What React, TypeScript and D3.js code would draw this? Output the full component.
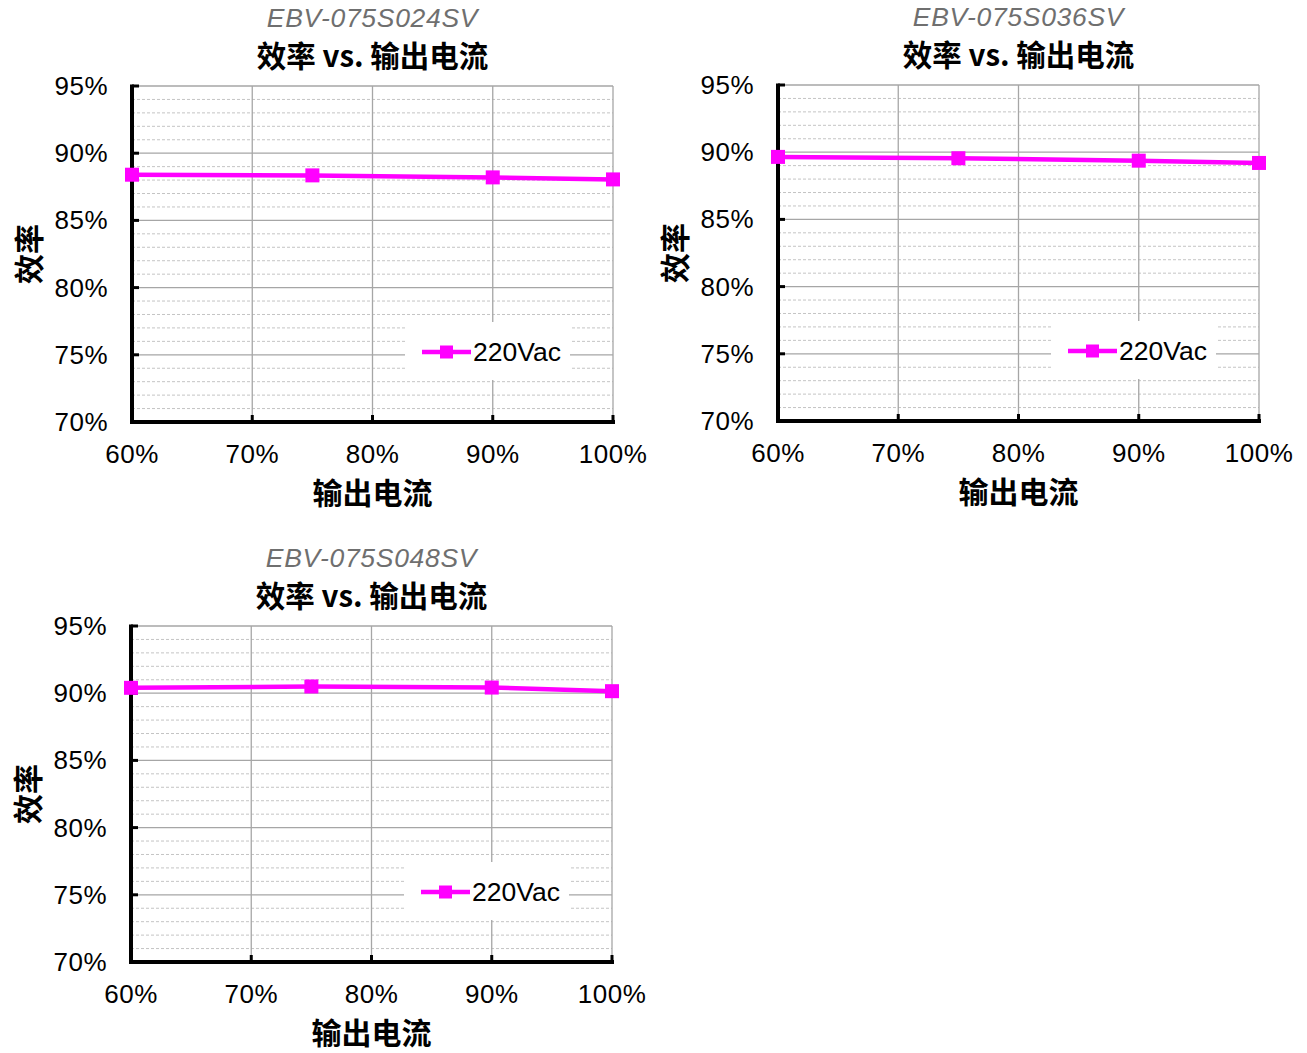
import React from "react";
import * as d3 from "d3";

const loadLevels = [60, 75, 90, 100];
const eff024 = [88.4, 88.35, 88.2, 88.05];
const eff036 = [89.65, 89.55, 89.37, 89.2];
const eff048 = [90.4, 90.5, 90.42, 90.15];

const xTicks = [60, 70, 80, 90, 100];
const yMajorTicks = [70, 75, 80, 85, 90, 95];
const yMinorTicks = d3.range(71, 95).filter((v) => v % 5 !== 0);

const models = ["EBV-075S024SV", "EBV-075S036SV", "EBV-075S048SV"];
const chartTitle = "效率 vs. 输出电流";
const xLabel = "输出电流";
const yLabel = "效率";
const seriesName = "220Vac";

const LATIN = "'Liberation Sans', Arial, sans-serif";
const CJK = "'Noto Sans CJK SC', 'Liberation Sans', sans-serif";
const MAGENTA = "#FF00FF";

type PanelProps = { left: number; top: number; model: string; values: number[] };

function Panel({ left, top, model, values }: PanelProps) {
  const w = 481;
  const h = 336;
  const x = d3.scaleLinear().domain([60, 100]).range([0, w]);
  const y = d3.scaleLinear().domain([70, 95]).range([h, 0]);
  const line = d3
    .line<number>()
    .x((_, i) => x(loadLevels[i]))
    .y((d) => y(d));
  const ms = 14;
  return (
    <g transform={`translate(${left},${top})`}>
      {yMinorTicks.map((t) => (
        <line key={"mn" + t} x1={0} x2={w} y1={y(t)} y2={y(t)} stroke="#c4c4c4" strokeWidth={1} strokeDasharray="3,2" />
      ))}
      {yMajorTicks.map((t) => (
        <line key={"mj" + t} x1={0} x2={w} y1={y(t)} y2={y(t)} stroke="#a6a6a6" strokeWidth={1.3} />
      ))}
      {xTicks.map((t) => (
        <line key={"vx" + t} x1={x(t)} x2={x(t)} y1={0} y2={h} stroke="#a6a6a6" strokeWidth={1.3} />
      ))}
      <rect x={273} y={236} width={165} height={58} fill="#ffffff" />
      <line x1={290} x2={339} y1={266} y2={266} stroke={MAGENTA} strokeWidth={4.5} />
      <rect x={314.5 - 6.5} y={266 - 6.5} width={13} height={13} fill={MAGENTA} />
      <text x={341} y={275} fontFamily={LATIN} fontSize={26.5} fill="#000">
        {seriesName}
      </text>
      <line x1={0} x2={0} y1={-1.5} y2={h + 2} stroke="#000" strokeWidth={4} />
      <line x1={-2} x2={w + 2} y1={h} y2={h} stroke="#000" strokeWidth={4} />
      {yMajorTicks.map((t) => (
        <line key={"yt" + t} x1={0} x2={7} y1={y(t)} y2={y(t)} stroke="#000" strokeWidth={3} />
      ))}
      {xTicks.map((t) => (
        <line key={"xt" + t} x1={x(t)} x2={x(t)} y1={h} y2={h - 7} stroke="#000" strokeWidth={3} />
      ))}
      {yMajorTicks.map((t) => (
        <text key={"yl" + t} x={-24} y={y(t) + 9} textAnchor="end" fontFamily={LATIN} fontSize={26} letterSpacing={0.5} fill="#000">
          {t}%
        </text>
      ))}
      {xTicks.map((t) => (
        <text key={"xl" + t} x={x(t)} y={h + 41} textAnchor="middle" fontFamily={LATIN} fontSize={26} letterSpacing={0.5} fill="#000">
          {t}%
        </text>
      ))}
      <path d={line(values) || ""} fill="none" stroke={MAGENTA} strokeWidth={4.5} />
      {values.map((v, i) => (
        <rect key={"m" + i} x={x(loadLevels[i]) - ms / 2} y={y(v) - ms / 2} width={ms} height={ms} fill={MAGENTA} />
      ))}
      <text x={w / 2} y={-59} textAnchor="middle" fontFamily={LATIN} fontStyle="italic" fontSize={26.5} letterSpacing={0.7} fill="#6f6f6f">
        {model}
      </text>
      <text x={w / 2} y={-19} textAnchor="middle" fontFamily={CJK} fontWeight={700} fontSize={29.5} fill="#000">
        {chartTitle}
      </text>
      <text x={w / 2} y={h + 82} textAnchor="middle" fontFamily={CJK} fontWeight={700} fontSize={30} fill="#000">
        {xLabel}
      </text>
      <text
        transform={`translate(${-105},${h / 2}) rotate(-90)`}
        textAnchor="middle"
        dominantBaseline="central"
        fontFamily={CJK}
        fontWeight={700}
        fontSize={30}
        fill="#000"
      >
        {yLabel}
      </text>
    </g>
  );
}

export default function App() {
  return (
    <svg
      width={1307}
      height={1053}
      style={{ position: "absolute", left: 0, top: 0, background: "#fff" }}
    >
      <rect width={1307} height={1053} fill="#fff" />
      <Panel left={132} top={86} model={models[0]} values={eff024} />
      <Panel left={778} top={85} model={models[1]} values={eff036} />
      <Panel left={131} top={626} model={models[2]} values={eff048} />
    </svg>
  );
}
